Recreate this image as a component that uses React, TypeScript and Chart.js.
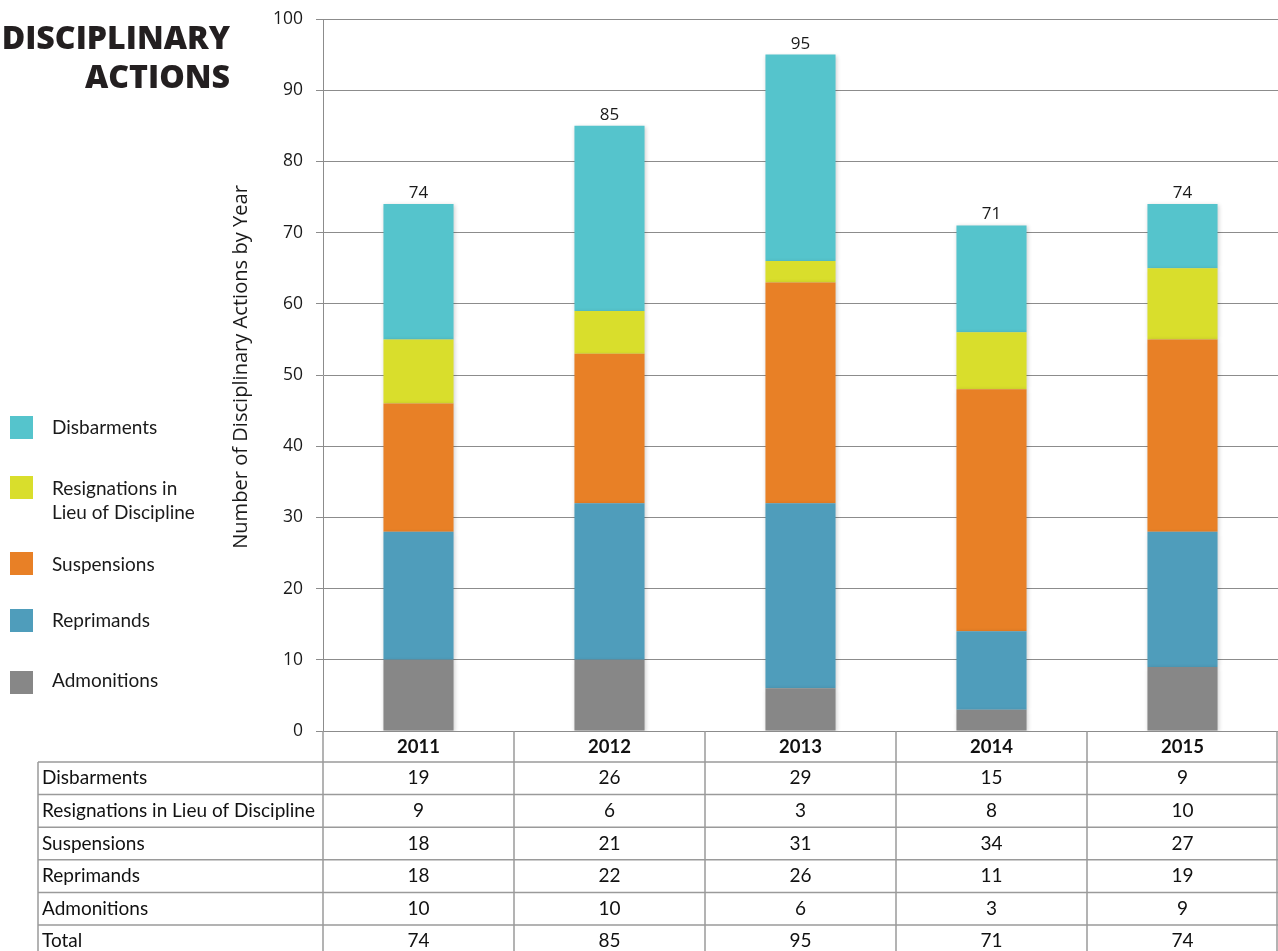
import React, { useEffect, useRef } from "react";
import { Chart, registerables } from "chart.js";

Chart.register(...registerables);

const years = ["2011", "2012", "2013", "2014", "2015"];
const disbarments = [19, 26, 29, 15, 9];
const resignations = [9, 6, 3, 8, 10];
const suspensions = [18, 21, 31, 34, 27];
const reprimands = [18, 22, 26, 11, 19];
const admonitions = [10, 10, 6, 3, 9];

const seriesNames = [
  "Disbarments",
  "Resignations in Lieu of Discipline",
  "Suspensions",
  "Reprimands",
  "Admonitions",
];
const legendLines = [
  ["Disbarments"],
  ["Resignations in", "Lieu of Discipline"],
  ["Suspensions"],
  ["Reprimands"],
  ["Admonitions"],
];
const colors = {
  disbarments: "#55c4cc",
  resignations: "#d9de2c",
  suspensions: "#e88026",
  reprimands: "#4f9dbb",
  admonitions: "#878787",
};
const titleLines = ["DISCIPLINARY", "ACTIONS"];
const yAxisTitle = "Number of Disciplinary Actions by Year";

const totals = years.map(
  (_, i) => disbarments[i] + resignations[i] + suspensions[i] + reprimands[i] + admonitions[i]
);

const shadowPlugin = {
  id: "barShadow",
  beforeDatasetsDraw(chart: any) {
    const ctx = chart.ctx;
    ctx.save();
    ctx.shadowColor = "rgba(0,0,0,0.18)";
    ctx.shadowBlur = 4;
    ctx.shadowOffsetX = 1;
    ctx.shadowOffsetY = 1;
  },
  afterDatasetsDraw(chart: any) {
    chart.ctx.restore();
  },
};

const extrasPlugin = {
  id: "extras",
  afterDatasetsDraw(chart: any) {
    const ctx = chart.ctx;
    const x = chart.scales.x;
    const y = chart.scales.y;
    ctx.save();
    ctx.font = "17px 'Open Sans'";
    ctx.fillStyle = "#1a1a1a";
    ctx.textAlign = "center";
    ctx.textBaseline = "alphabetic";
    totals.forEach((t, i) => {
      ctx.fillText(String(t), x.getPixelForValue(i), y.getPixelForValue(t) - 6);
    });
    ctx.restore();
  },
  afterDraw(chart: any) {
    const ctx = chart.ctx;
    const area = chart.chartArea;
    const x = chart.scales.x;
    ctx.save();

    // Title
    ctx.fillStyle = "#231f20";
    ctx.font = "800 34px 'Open Sans'";
    const tw = ctx.measureText(titleLines[0]).width;
    const tfs = Math.floor((34 * 229) / tw * 10) / 10;
    ctx.font = "800 " + tfs + "px 'Open Sans'";
    ctx.textAlign = "right";
    ctx.textBaseline = "alphabetic";
    ctx.fillText(titleLines[0], 230, 49);
    ctx.fillText(titleLines[1], 230, 88);

    // Legend
    const legendColors = [
      colors.disbarments,
      colors.resignations,
      colors.suspensions,
      colors.reprimands,
      colors.admonitions,
    ];
    const sqY = [416, 476, 552, 609, 671];
    const txtY = [[428], [489, 513], [565], [621], [681]];
    ctx.textAlign = "left";
    ctx.textBaseline = "middle";
    ctx.font = "19px 'Lato'";
    legendLines.forEach((lines, i) => {
      ctx.fillStyle = legendColors[i];
      ctx.fillRect(10, sqY[i], 23, 23);
      ctx.fillStyle = "#1a1a1a";
      lines.forEach((ln, j) => ctx.fillText(ln, 52, txtY[i][j]));
    });

    // Y axis title
    ctx.save();
    ctx.translate(241, 367);
    ctx.rotate(-Math.PI / 2);
    ctx.font = "20px 'Open Sans'";
    const w = ctx.measureText(yAxisTitle).width;
    const fs = Math.round((20 * 363) / w * 10) / 10;
    ctx.font = fs + "px 'Open Sans'";
    ctx.textAlign = "center";
    ctx.textBaseline = "middle";
    ctx.fillStyle = "#1a1a1a";
    ctx.fillText(yAxisTitle, 0, 0);
    ctx.restore();

    // Data table
    const n = years.length;
    const colW = (area.right - area.left) / n;
    const top = area.bottom;
    const headerH = 31;
    const rowH = 32.6;
    const tableLeft = 38;
    const bottom = chart.height;
    ctx.strokeStyle = "#9a9a9a";
    ctx.lineWidth = 1.5;
    for (let i = 0; i <= n; i++) {
      const vx = Math.round(area.left + i * colW) - (i === n ? 1 : 0);
      ctx.beginPath();
      ctx.moveTo(vx, top);
      ctx.lineTo(vx, bottom);
      ctx.stroke();
    }
    ctx.beginPath();
    ctx.moveTo(tableLeft, top + headerH);
    ctx.lineTo(tableLeft, bottom);
    ctx.stroke();
    for (let r = 0; r < 6; r++) {
      const hy = top + headerH + r * rowH;
      ctx.beginPath();
      ctx.moveTo(tableLeft, hy);
      ctx.lineTo(area.right, hy);
      ctx.stroke();
    }
    ctx.fillStyle = "#111";
    ctx.font = "bold 18.5px 'Lato'";
    ctx.textAlign = "center";
    ctx.textBaseline = "middle";
    years.forEach((yr, i) => ctx.fillText(yr, x.getPixelForValue(i), top + headerH / 2 + 1));
    const rows = [disbarments, resignations, suspensions, reprimands, admonitions, totals];
    const rowNames = [...seriesNames, "Total"];
    ctx.font = "19px 'Lato'";
    rows.forEach((vals, r) => {
      const cy = top + headerH + r * rowH + rowH / 2;
      ctx.textAlign = "left";
      ctx.fillText(rowNames[r], 42, cy);
      ctx.textAlign = "center";
      vals.forEach((v, i) => ctx.fillText(String(v), x.getPixelForValue(i), cy));
    });
    ctx.restore();
  },
};

export default function App() {
  const ref = useRef<HTMLCanvasElement | null>(null);
  useEffect(() => {
    if (!ref.current) return;
    const chart = new Chart(ref.current, {
      type: "bar",
      data: {
        labels: years,
        datasets: [
          { label: seriesNames[4], data: admonitions, backgroundColor: colors.admonitions },
          { label: seriesNames[3], data: reprimands, backgroundColor: colors.reprimands },
          { label: seriesNames[2], data: suspensions, backgroundColor: colors.suspensions },
          { label: seriesNames[1], data: resignations, backgroundColor: colors.resignations },
          { label: seriesNames[0], data: disbarments, backgroundColor: colors.disbarments },
        ],
      },
      options: {
        responsive: false,
        maintainAspectRatio: false,
        animation: false,
        layout: { padding: { left: 0, right: 0, top: 19, bottom: 220 } },
        plugins: {
          legend: { display: false },
          title: { display: false },
          tooltip: { enabled: false },
        },
        datasets: {
          bar: { barPercentage: 0.367, categoryPercentage: 1 },
        },
        scales: {
          x: {
            stacked: true,
            display: false,
          },
          y: {
            stacked: true,
            min: 0,
            max: 100,
            afterFit: (axis: any) => {
              axis.width = 323;
              axis.paddingTop = 0;
              axis.paddingBottom = 0;
            },
            ticks: {
              stepSize: 10,
              padding: 13,
              color: "#1a1a1a",
              font: { family: "'Open Sans'", size: 17.5 },
            },
            grid: {
              color: "#8c8c8c",
              lineWidth: 1,
              drawTicks: true,
              tickLength: 7,
            },
            border: { display: true, color: "#8c8c8c", width: 1 },
          },
        },
      },
      plugins: [shadowPlugin, extrasPlugin],
    });
    return () => chart.destroy();
  }, []);
  return (
    <div style={{ position: "absolute", left: 0, top: 0, width: 1278, height: 951, background: "#fff" }}>
      <canvas ref={ref} width={1278} height={951} style={{ display: "block" }} />
    </div>
  );
}
